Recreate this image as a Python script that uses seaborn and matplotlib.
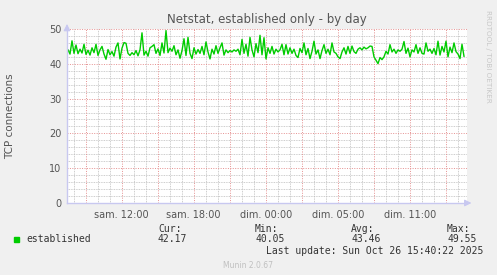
import numpy as np
import pandas as pd
import matplotlib
matplotlib.use("Agg")
import matplotlib.pyplot as plt
import seaborn as sns

# ---- data ----
# hours relative to "sam. 12:00" (real elapsed time), one sample every 10 min
start_hour = -4.475
step_hour = 1.0 / 6.0
established = [
    44.0, 42.8, 46.6, 43.0, 45.4, 42.9, 44.2, 43.1, 45.6, 42.7,
    43.9, 42.5, 44.6, 43.2, 45.6, 42.4, 44.0, 45.0, 42.8, 41.3,
    44.1, 42.6, 43.5, 42.2, 44.8, 46.0, 41.4, 44.5, 46.1, 45.9,
    43.0, 42.4, 43.2, 42.6, 43.8, 42.3, 44.0, 48.9, 42.5, 43.6,
    42.2, 44.6, 45.0, 45.5, 43.0, 44.3, 42.4, 46.0, 43.1, 49.55,
    43.2, 44.5, 43.6, 45.2, 42.6, 44.0, 41.6, 43.8, 47.2, 42.4,
    47.6, 43.0, 41.5, 44.6, 42.8, 44.1, 43.0, 45.0, 42.6, 46.3,
    43.4, 41.4, 44.2, 42.8, 45.2, 43.0, 44.6, 46.0, 42.5, 44.0,
    43.2, 43.8, 43.4, 44.0, 43.6, 44.2, 42.6, 47.0, 43.0, 45.6,
    42.2, 47.6, 44.0, 42.0, 45.8, 43.2, 48.2, 42.6, 47.5, 41.4,
    44.6, 43.0, 45.0, 42.8, 44.2, 43.4, 44.0, 45.6, 42.6, 45.5,
    42.8, 44.6, 43.0, 44.2, 42.4, 41.8, 44.4, 43.2, 46.0, 42.6,
    44.4, 41.5, 43.6, 46.5, 42.8, 44.0, 41.5, 43.8, 45.5, 43.0,
    44.2, 42.6, 46.0, 43.4, 43.0, 42.0, 41.5, 43.4, 44.6, 42.8,
    45.0, 43.0, 45.1, 43.5, 43.0, 44.2, 44.6, 44.0, 44.8, 44.3,
    44.6, 45.1, 45.0, 42.0, 41.0, 40.05, 41.8, 41.2, 42.0, 43.6,
    42.8, 45.5, 43.4, 44.2, 43.0, 44.0, 43.6, 44.2, 46.4, 43.0,
    44.5, 42.0, 44.0, 43.4, 45.5, 43.0, 44.6, 43.0, 42.8, 46.0,
    43.6, 44.2, 43.0, 44.4, 42.6, 46.5, 42.5, 45.0, 43.4, 46.5,
    42.0, 44.8, 43.2, 46.0, 43.5, 42.8, 41.5, 45.6, 42.17,
]
tick_hours = [0, 6, 12, 18, 24]
tick_labels = ["sam. 12:00", "sam. 18:00", "dim. 00:00", "dim. 05:00", "dim. 11:00"]
y_ticks = [0, 10, 20, 30, 40, 50]
stat_names = ["Cur:", "Min:", "Avg:", "Max:"]
stat_values = ["42.17", "40.05", "43.46", "49.55"]
series_name = "established"
title = "Netstat, established only - by day"
ylabel = "TCP connections"
last_update = "Last update: Sun Oct 26 15:40:22 2025"
footer = "Munin 2.0.67"
side_text = "RRDTOOL / TOBI OETIKER"

hours = start_hour + step_hour * np.arange(len(established))
df = pd.DataFrame({"hour": hours, "value": established})

# ---- figure ----
W, H = 497, 275
fig = plt.figure(figsize=(W / 100, H / 100), dpi=100, facecolor="#F0F0F0")
px = lambda x0, y0, x1, y1: [x0 / W, 1 - y1 / H, (x1 - x0) / W, (y1 - y0) / H]
ax = fig.add_axes(px(67, 29, 467, 203))
ax.set_facecolor("white")

xmin, xmax = (67 - 121.7) / 12, (467 - 121.7) / 12
ax.set_xlim(xmin, xmax)
ax.set_ylim(0, 50)

gray_grid = "#BDBDBD"
red_grid = "#E59090"
for h in range(-4, 29):
    if h % 3 != 0:
        ax.axvline(h, color=gray_grid, lw=0.6, ls=(0, (1, 1)), zorder=1)
for v in range(2, 50, 2):
    if v % 10 != 0:
        ax.axhline(v, color=gray_grid, lw=0.6, ls=(0, (1, 1)), zorder=1)
for h in range(-3, 28, 3):
    ax.axvline(h, color=red_grid, lw=0.7, ls=(0, (1, 1.5)), zorder=1.5)
for v in y_ticks[1:]:
    ax.axhline(v, color=red_grid, lw=0.7, ls=(0, (1, 1.5)), zorder=1.5)

sns.lineplot(data=df, x="hour", y="value", ax=ax, color="#00CC00", lw=1.0,
             legend=False, zorder=3)

for s in ax.spines.values():
    s.set_visible(False)
axis_col = "#C8C8F0"
ax.plot([0, 1], [0, 0], transform=ax.transAxes, color=axis_col, lw=1, clip_on=False, zorder=4)
ax.plot([0, 0], [0, 1], transform=ax.transAxes, color=axis_col, lw=1, clip_on=False, zorder=4)
ax.annotate("", xy=(1.018, 0), xytext=(0.99, 0), xycoords="axes fraction",
            arrowprops=dict(arrowstyle="-|>,head_width=0.2,head_length=0.4", color=axis_col, lw=0.8))
ax.annotate("", xy=(0, 1.045), xytext=(0, 0.98), xycoords="axes fraction",
            arrowprops=dict(arrowstyle="-|>,head_width=0.2,head_length=0.4", color=axis_col, lw=0.8))

txt = "#555555"
ax.set_xticks(tick_hours)
ax.set_xticklabels(tick_labels)
ax.set_yticks(y_ticks)
ax.set_yticklabels([str(v) for v in y_ticks])
ax.tick_params(axis="both", length=0, labelsize=7, labelcolor=txt, pad=4)
ax.tick_params(axis="x", pad=5)
ax.set_xlabel("")
ax.set_ylabel("")

fig.text(267 / W, 1 - 19 / H, title, ha="center", va="center", fontsize=8.5, color=txt)
fig.text(10 / W, 1 - 116 / H, ylabel, ha="center", va="center", rotation=90, fontsize=7.5, color=txt)
fig.text(488 / W, 1 - 10 / H, side_text, ha="center", va="top", rotation=270, fontsize=5.2, color="#C8C8C8")

mono = "DejaVu Sans Mono"
fig.patches.append(plt.Rectangle((14 / W, 1 - 242 / H), 5 / W, 5 / H, transform=fig.transFigure,
                                 color="#00CC00", figure=fig))
fig.text(26 / W, 1 - 239.5 / H, series_name, ha="left", va="center", fontsize=7, family=mono, color="#333333")
xs = [158, 255, 351, 447]
for x, n, v in zip(xs, stat_names, stat_values):
    fig.text(x / W, 1 - 228.5 / H, n, ha="left", va="center", fontsize=7, family=mono, color="#333333")
    fig.text(x / W, 1 - 239.5 / H, v, ha="left", va="center", fontsize=7, family=mono, color="#333333")
fig.text(483 / W, 1 - 251.5 / H, last_update, ha="right", va="center", fontsize=7, family=mono, color="#333333")
fig.text(248 / W, 1 - 265 / H, footer, ha="center", va="center", fontsize=5.5, color="#C0C0C0")

fig.savefig("out.png", dpi=100, facecolor=fig.get_facecolor())
